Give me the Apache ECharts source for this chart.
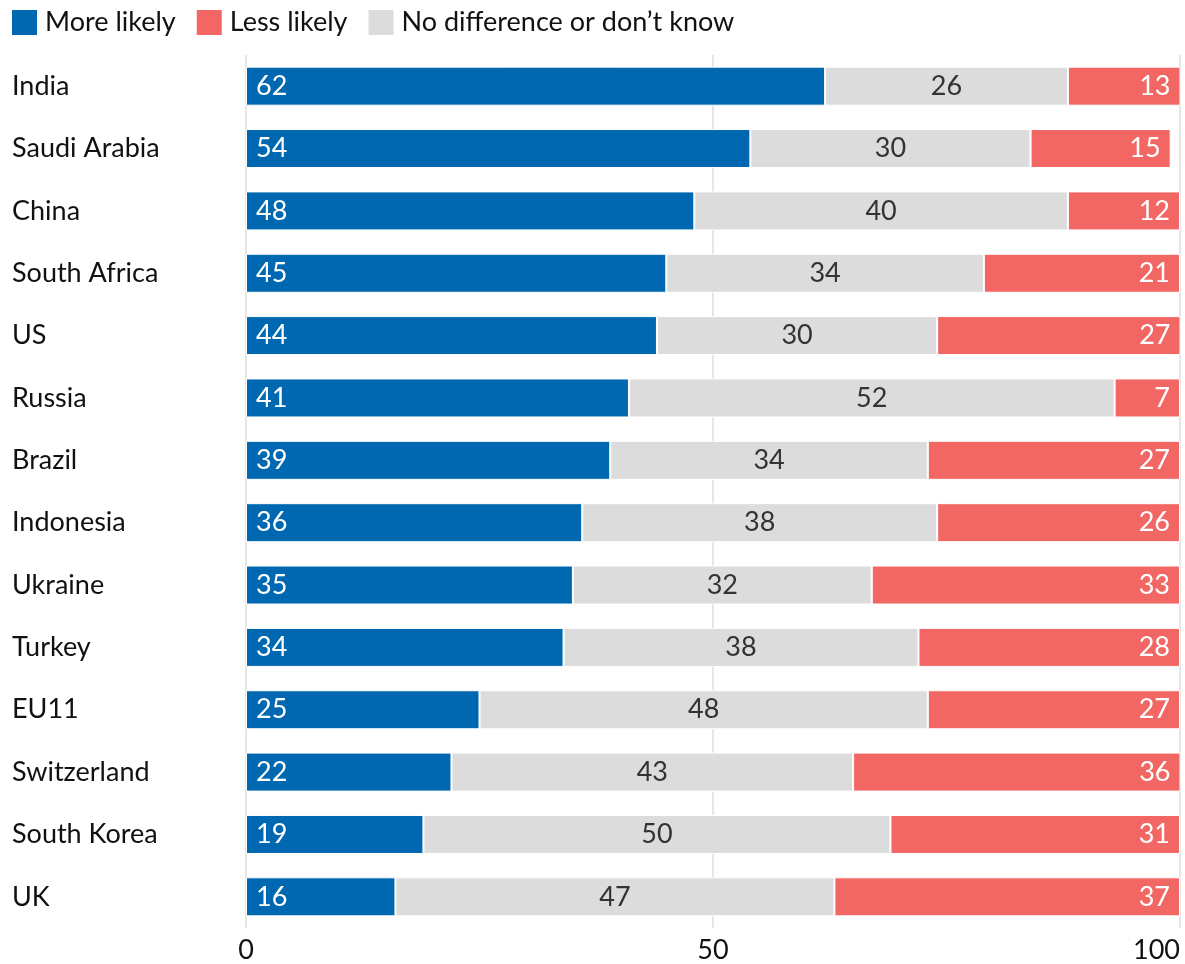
<!DOCTYPE html>
<html>
<head>
<meta charset="utf-8">
<style>
  html, body { margin: 0; padding: 0; background: #fff; }
  #chart { width: 1185px; height: 964px; }
</style>
<script src="https://cdn.jsdelivr.net/npm/echarts@6/dist/echarts.min.js"></script>
</head>
<body>
<div id="chart"></div>
<script>
const countries = ['India', 'Saudi Arabia', 'China', 'South Africa', 'US', 'Russia', 'Brazil',
  'Indonesia', 'Ukraine', 'Turkey', 'EU11', 'Switzerland', 'South Korea', 'UK'];
const moreLikely   = [62, 54, 48, 45, 44, 41, 39, 36, 35, 34, 25, 22, 19, 16];
const noDifference = [26, 30, 40, 34, 30, 52, 34, 38, 32, 38, 48, 43, 50, 47];
const lessLikely   = [13, 15, 12, 21, 27, 7, 27, 26, 33, 28, 27, 36, 31, 37];
const xTicks = [0, 50, 100];

const FONT = 'Lato, "Noto Sans", sans-serif';
const BLUE = '#0068b0', RED = '#f26764', GREY = '#dcdcdc';

function barSeries(name, data, color, labelPos, labelColor) {
  return {
    name: name,
    type: 'bar',
    stack: 'total',
    data: data,
    barWidth: 39,
    clip: true,
    itemStyle: { color: color, borderColor: '#fff', borderWidth: 1 },
    label: {
      show: true,
      position: labelPos,
      distance: 10,
      color: labelColor,
      fontFamily: FONT,
      fontSize: 27
    },
    emphasis: { disabled: true }
  };
}

const chart = echarts.init(document.getElementById('chart'), null, { renderer: 'canvas' });
chart.setOption({
  animation: false,
  backgroundColor: '#fff',
  legend: {
    left: 10,
    top: 8,
    padding: 0,
    itemWidth: 27,
    itemHeight: 27,
    itemGap: 19,
    icon: 'rect',
    data: ['More likely', 'Less likely', 'No difference or don\u2019t know'],
    textStyle: { fontFamily: FONT, fontSize: 27, color: '#111', padding: [0, 0, 0, 2] }
  },
  grid: { left: 246, right: 5, top: 55, bottom: 34.5, containLabel: false },
  xAxis: {
    type: 'value',
    min: xTicks[0],
    max: xTicks[xTicks.length - 1],
    interval: xTicks[1] - xTicks[0],
    axisLine: { show: false },
    axisTick: { show: false },
    splitLine: { show: true, lineStyle: { color: '#e6e6e6', width: 2 } },
    axisLabel: {
      color: '#111',
      fontFamily: FONT,
      fontSize: 27,
      margin: 9,
      alignMaxLabel: 'right'
    }
  },
  yAxis: {
    type: 'category',
    inverse: true,
    data: countries,
    axisLine: { show: false },
    axisTick: { show: false },
    axisLabel: {
      align: 'left',
      margin: 234,
      color: '#111',
      fontFamily: FONT,
      fontSize: 27
    }
  },
  series: [
    barSeries('More likely', moreLikely, BLUE, 'insideLeft', '#fff'),
    barSeries('No difference or don\u2019t know', noDifference, GREY, 'inside', '#333'),
    barSeries('Less likely', lessLikely, RED, 'insideRight', '#fff')
  ]
});
</script>
</body>
</html>
